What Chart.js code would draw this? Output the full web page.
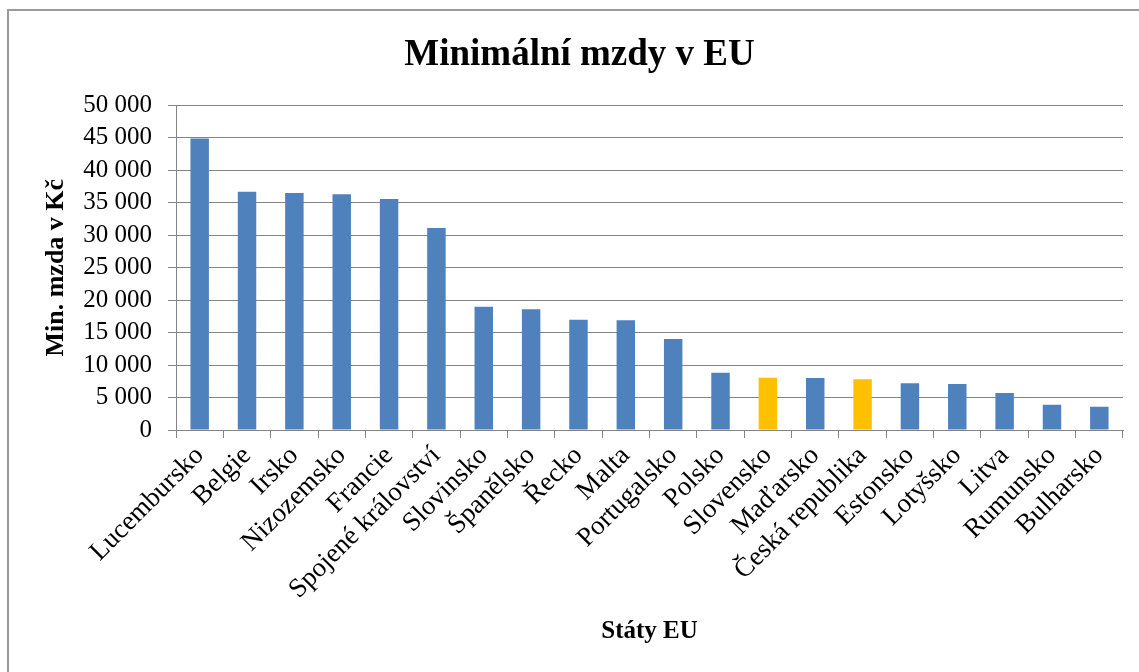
<!DOCTYPE html>
<html>
<head>
<meta charset="utf-8">
<script src="https://cdn.jsdelivr.net/npm/chart.js@4.4.1/dist/chart.umd.min.js"></script>
<style>
  html, body { margin: 0; padding: 0; background: #fff; overflow: hidden; }
  #wrap { position: relative; width: 1139px; height: 672px; }
  #frame { position: absolute; left: 7px; top: 9px; width: 1200px; height: 700px; border: 2px solid #9a9a9a; box-sizing: border-box; pointer-events: none; }
  canvas { position: absolute; left: 0; top: 0; }
</style>
</head>
<body>
<div id="wrap">
  <canvas id="c" width="1139" height="672"></canvas>
  <div id="frame"></div>
</div>
<script>
const categories = ["Lucembursko", "Belgie", "Irsko", "Nizozemsko", "Francie", "Spojené království", "Slovinsko", "Španělsko", "Řecko", "Malta", "Portugalsko", "Polsko", "Slovensko", "Maďarsko", "Česká republika", "Estonsko", "Lotyšsko", "Litva", "Rumunsko", "Bulharsko"];
const wages = [44900, 36700, 36500, 36300, 35600, 31100, 19000, 18600, 17000, 16900, 14000, 8800, 8050, 8000, 7800, 7200, 7100, 5700, 3900, 3600];
const highlighted = ["Slovensko", "Česká republika"];
const yTicks = [0, 5000, 10000, 15000, 20000, 25000, 30000, 35000, 40000, 45000, 50000];

const BLUE = "#4F81BD", ORANGE = "#FFC000", GRID = "#858585";
const FONT = "'Liberation Serif', 'Times New Roman', serif";
const barColors = categories.map(c => highlighted.includes(c) ? ORANGE : BLUE);

function fmt(v) { return String(v).replace(/\B(?=(\d{3})+(?!\d))/g, " "); }

new Chart(document.getElementById("c"), {
  type: "bar",
  data: {
    labels: categories,
    datasets: [{
      label: "Min. mzda",
      data: wages,
      backgroundColor: barColors,
      borderWidth: 0,
      barPercentage: 0.39,
      categoryPercentage: 1.0
    }]
  },
  options: {
    responsive: false,
    animation: false,
    devicePixelRatio: 1,
    layout: { padding: { left: 36, right: 16, top: 0, bottom: 0 } },
    plugins: {
      legend: { display: false },
      tooltip: { enabled: false },
      title: {
        display: true,
        text: "Minimální mzdy v EU",
        color: "#000",
        font: { family: FONT, size: 37, weight: "bold", lineHeight: 1.2 },
        padding: { top: 33, bottom: 28 }
      }
    },
    scales: {
      x: {
        afterFit(scale) { scale.height = 242; },
        grid: { display: true, drawOnChartArea: false, drawTicks: true, tickLength: 8, color: GRID, offset: true },
        border: { display: true, color: GRID, width: 1 },
        ticks: {
          color: "#000",
          font: { family: FONT, size: 27 },
          minRotation: 45, maxRotation: 45,
          autoSkip: false,
          padding: 2
        },
        title: {
          display: true,
          text: "Státy EU",
          color: "#000",
          font: { family: FONT, size: 25, weight: "bold", lineHeight: 1.2 },
          padding: { top: 0, bottom: 25 }
        }
      },
      y: {
        min: 0, max: 50000,
        afterFit(scale) { scale.width = 140; },
        afterBuildTicks(scale) { scale.ticks = yTicks.map(v => ({ value: v })); },
        grid: { display: true, color: GRID, lineWidth: 1, drawTicks: true, tickLength: 8 },
        border: { display: true, color: GRID, width: 1 },
        ticks: {
          color: "#000",
          font: { family: FONT, size: 25 },
          padding: 16,
          autoSkip: false,
          callback: v => fmt(v)
        },
        title: {
          display: true,
          text: "Min. mzda v Kč",
          color: "#000",
          font: { family: FONT, size: 26, weight: "bold", lineHeight: 1.2 },
          padding: { top: 5, bottom: 0 }
        }
      }
    }
  }
});
</script>
</body>
</html>
